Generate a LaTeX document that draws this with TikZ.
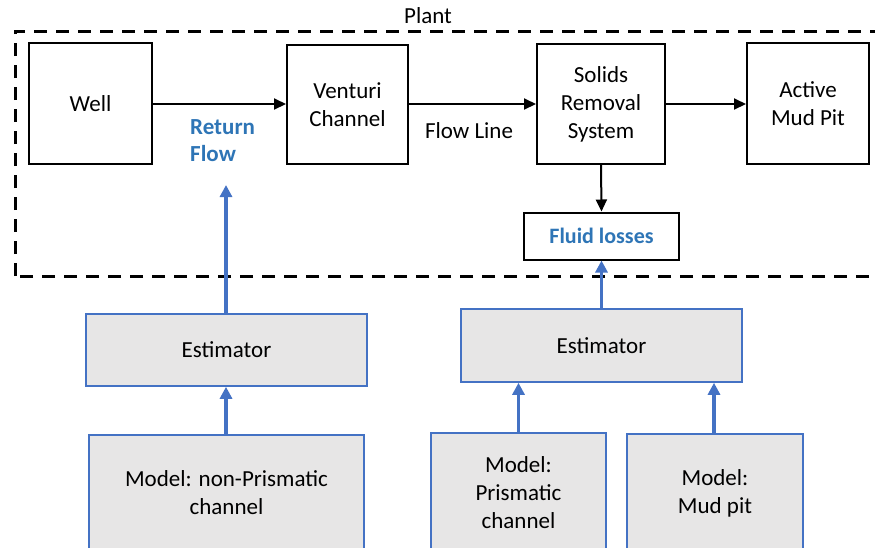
\documentclass[tikz,border=0pt]{standalone}
\usepackage{fontspec}
\setmainfont{Carlito}
\usetikzlibrary{arrows.meta}
\definecolor{lineblue}{RGB}{68,114,196}
\definecolor{textblue}{RGB}{46,117,182}
\definecolor{boxgray}{RGB}{231,230,230}
\begin{document}
\begin{tikzpicture}[x=1pt,y=-1pt,
  every node/.style={font=\fontsize{23}{28}\selectfont, align=center, inner sep=0pt},
  plantbox/.style={draw=black, line width=2pt, fill=white},
  estbox/.style={draw=lineblue, line width=1.6pt, fill=boxgray},
  flowarrow/.style={draw=black, line width=2pt, -{Triangle[length=12pt,width=11pt]}},
  bluearrow/.style={draw=lineblue, line width=3.2pt, -{Triangle[length=12pt,width=12pt]}},
  bluelabel/.style={text=textblue, font=\fontsize{23}{27}\selectfont\bfseries}]
\useasboundingbox (0,0) rectangle (875,547);

% plant boundary (right edge lies beyond the page)
\draw[black, line width=3pt, dash pattern=on 13pt off 9pt] (15,276) -- (15,31) -- (890,31) -- (890,276) -- cycle;
\node (plant) at (428,16) {Plant};

% plant components
\node[plantbox, minimum width=123pt, minimum height=121pt] (well) at (90.5,103.5) {Well};
\node[plantbox, minimum width=121pt, minimum height=119pt] (venturi) at (347.5,104.5) {Venturi\\Channel};
\node[plantbox, minimum width=128pt, minimum height=120pt] (solids) at (601,104) {Solids\\Removal\\System};
\node[plantbox, minimum width=122pt, minimum height=121pt] (pit) at (808,103.5) {Active\\Mud Pit};
\node[plantbox, minimum width=155pt, minimum height=47pt, bluelabel, font=\fontsize{22}{26}\selectfont\bfseries] (losses) at (601.5,236) {Fluid losses};

\draw[flowarrow] (well.east |- 0,104) -- (venturi.west |- 0,104);
\draw[flowarrow] (venturi.east |- 0,104) -- (solids.west |- 0,104);
\draw[flowarrow] (solids.east |- 0,104) -- (pit.west |- 0,104);
\draw[flowarrow] (solids.south) -- (losses.north);

\node (flowline) at (469,131) {Flow Line};
\node[bluelabel, align=left, anchor=west] (retflow) at (190,141) {Return\\Flow};

% estimators and models
\node[estbox, minimum width=281pt, minimum height=72pt] (est1) at (226.5,350) {Estimator};
\node[estbox, minimum width=281pt, minimum height=73pt] (est2) at (601.5,345.5) {Estimator};
\node[estbox, minimum width=275pt, minimum height=116pt] (m1) at (226.5,493) {Model: non-Prismatic\\channel};
\node[estbox, minimum width=175pt, minimum height=120pt] (m2) at (518.5,493) {Model:\\Prismatic\\channel};
\node[estbox, minimum width=176pt, minimum height=118pt] (m3) at (715,493) {Model:\\Mud pit};

\coordinate (rettip) at (226,185);
\draw[bluearrow] (est1.north -| rettip) -- (rettip);
\draw[bluearrow] (est2.north -| losses.south) -- (losses.south);
\draw[bluearrow] (m1.north -| rettip) -- (est1.south -| rettip);
\draw[bluearrow] (m2.north) -- (est2.south -| m2.north);
\draw[bluearrow] (m3.north -| 714,0) -- (est2.south -| 714,0);
\end{tikzpicture}
\end{document}
